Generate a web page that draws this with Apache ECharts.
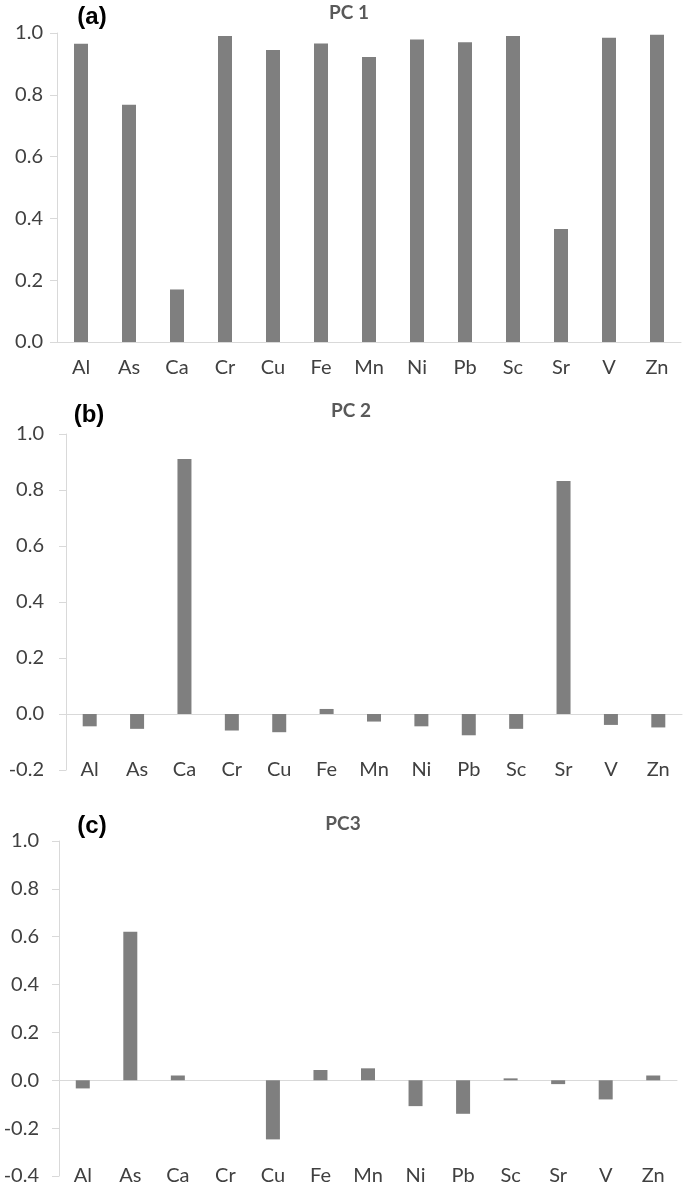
<!DOCTYPE html>
<html>
<head>
<meta charset="utf-8">
<script src="https://cdn.jsdelivr.net/npm/echarts@6/dist/echarts.min.js"></script>
<style>
html,body{margin:0;padding:0;background:#fff;}
#chart{width:685px;height:1186px;}
</style>
</head>
<body>
<div id="chart"></div>
<script>
var categories = ['Al','As','Ca','Cr','Cu','Fe','Mn','Ni','Pb','Sc','Sr','V','Zn'];
var pc1 = [0.965, 0.768, 0.17, 0.99, 0.945, 0.966, 0.922, 0.979, 0.97, 0.99, 0.366, 0.985, 0.994];
var pc2 = [-0.044, -0.053, 0.911, -0.059, -0.065, 0.018, -0.027, -0.044, -0.076, -0.053, 0.832, -0.039, -0.048];
var pc3 = [-0.034, 0.621, 0.02, 0.0, -0.247, 0.043, 0.05, -0.108, -0.14, 0.008, -0.016, -0.08, 0.02];
var panelTitles = ['PC 1', 'PC 2', 'PC3'];
var panelLetters = ['(a)', '(b)', '(c)'];

var LABEL_FONT = 'Lato';
var AXIS_GRAY = '#d9d9d9';
var TEXT = '#404040';
var BAR = '#7f7f7f';

var grids = [
  {left: 57, top: 33, width: 624, height: 309},
  {left: 66, top: 434, width: 616, height: 336},
  {left: 59, top: 841, width: 618, height: 336}
];
var yRanges = [[0, 1], [-0.2, 1], [-0.4, 1]];
var yMargins = [14, 22, 20];
var datasets = [pc1, pc2, pc3];

var xAxes = [], yAxes = [], series = [];
for (var i = 0; i < 3; i++) {
  xAxes.push({
    gridIndex: i, type: 'category', data: categories, position: 'bottom',
    axisLine: {show: true, onZero: true, lineStyle: {color: AXIS_GRAY, width: 1}},
    axisTick: {show: false},
    axisLabel: {show: i === 0, color: TEXT, fontFamily: LABEL_FONT, fontSize: 20, margin: 16},
    splitLine: {show: false}
  });
  yAxes.push({
    gridIndex: i, type: 'value', min: yRanges[i][0], max: yRanges[i][1], interval: 0.2,
    axisLine: {show: true, lineStyle: {color: AXIS_GRAY}},
    axisTick: {show: true, length: 7, lineStyle: {color: AXIS_GRAY}},
    splitLine: {show: false},
    axisLabel: {color: TEXT, fontFamily: LABEL_FONT, fontSize: 20, margin: yMargins[i],
      formatter: function (v) { return v.toFixed(1); }}
  });
}
for (var j = 1; j < 3; j++) {
  xAxes.push({
    gridIndex: j, type: 'category', data: categories, position: 'bottom',
    axisLine: {show: false, onZero: false},
    axisTick: {show: false},
    axisLabel: {show: true, color: TEXT, fontFamily: LABEL_FONT, fontSize: 20, margin: 0, verticalAlign: 'middle'},
    splitLine: {show: false}
  });
}
for (var k = 0; k < 3; k++) {
  series.push({
    type: 'bar', xAxisIndex: k, yAxisIndex: k, data: datasets[k],
    barWidth: 14, itemStyle: {color: BAR}, silent: true
  });
}

var letterPos = [[92, 17], [89, 415], [92, 826]];
var titlePos = [[349, 13], [351, 411], [343, 824]];
var graphics = [];
for (var g = 0; g < 3; g++) {
  graphics.push({
    type: 'text', x: letterPos[g][0], y: letterPos[g][1],
    style: {text: panelLetters[g], font: 'bold 24px "Liberation Sans", Arial, sans-serif', fill: '#000',
      textAlign: 'center', textVerticalAlign: 'middle'}
  });
  graphics.push({
    type: 'text', x: titlePos[g][0], y: titlePos[g][1],
    style: {text: panelTitles[g], font: 'bold 19px Lato, sans-serif', fill: '#595959',
      textAlign: 'center', textVerticalAlign: 'middle'}
  });
}

var chart = echarts.init(document.getElementById('chart'), null, {renderer: 'canvas'});
chart.setOption({
  animation: false,
  backgroundColor: '#fff',
  grid: grids,
  xAxis: xAxes,
  yAxis: yAxes,
  series: series,
  graphic: graphics
});
</script>
</body>
</html>
